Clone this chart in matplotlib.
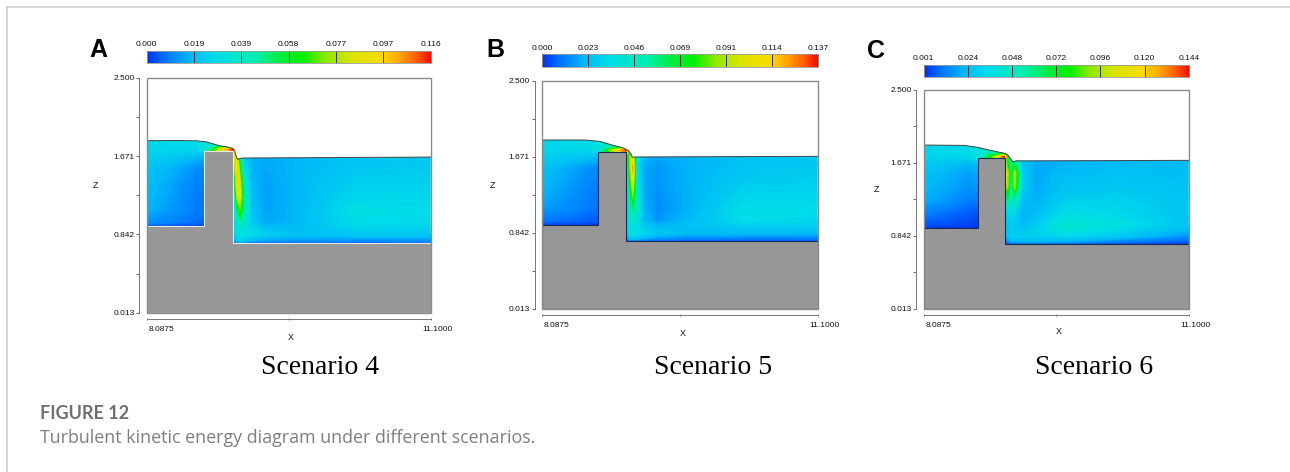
import numpy as np
import matplotlib
matplotlib.use('Agg')
import matplotlib.pyplot as plt
from matplotlib.cm import ScalarMappable
from matplotlib.colors import LinearSegmentedColormap, Normalize
from matplotlib.lines import Line2D
from matplotlib.patches import Polygon, Rectangle

W, H = 1290, 472

# grid nodes of the turbulent kinetic energy field
x_nodes = [8.0875, 8.35, 8.6, 8.7, 8.85, 9.0, 9.02, 9.05, 9.08, 9.12, 9.2, 9.35, 9.7, 10.3, 11.1]
z_nodes = [0.74, 0.78, 0.84, 0.93, 0.97, 1.1, 1.25, 1.4, 1.55, 1.66, 1.74, 1.78, 1.9]

# values in thousandths, one row per z node, bottom row first
tke_a = [
    [0, 0, 0, 0, 0, 0, 4, 5, 5, 4, 3, 2, 2, 2, 3],
    [0, 0, 0, 0, 0, 5, 14, 22, 25, 22, 18, 15, 13, 12, 12],
    [0, 0, 0, 0, 0, 14, 24, 28, 30, 30, 28, 24, 20, 22, 22],
    [4, 3, 2, 2, 2, 16, 24, 34, 37, 34, 26, 18, 19, 26, 25],
    [12, 10, 7, 6, 6, 16, 24, 40, 46, 36, 22, 15, 18, 28, 27],
    [17, 13, 9, 8, 8, 15, 26, 54, 66, 44, 21, 14, 18, 29, 28],
    [19, 14, 9, 8, 8, 16, 42, 84, 84, 44, 19, 14, 18, 26, 26],
    [20, 15, 10, 9, 9, 18, 54, 100, 76, 36, 18, 14, 18, 24, 24],
    [21, 17, 12, 10, 10, 24, 70, 98, 54, 28, 17, 15, 18, 22, 23],
    [24, 22, 18, 16, 30, 54, 90, 80, 40, 24, 17, 15, 18, 21, 22],
    [26, 26, 26, 30, 84, 116, 90, 40, 24, 20, 17, 16, 18, 20, 21],
    [26, 27, 27, 32, 44, 62, 50, 30, 22, 20, 18, 17, 18, 20, 21],
    [26, 27, 27, 32, 44, 62, 50, 30, 22, 20, 18, 17, 18, 20, 21],
]
tke_b = [
    [0, 0, 0, 0, 0, 0, 2, 3, 3, 3, 2, 2, 2, 2, 2],
    [0, 0, 0, 0, 0, 4, 14, 24, 26, 24, 20, 15, 12, 11, 11],
    [0, 0, 0, 0, 0, 14, 28, 36, 36, 34, 30, 26, 22, 22, 22],
    [2, 2, 2, 1, 1, 18, 30, 38, 38, 34, 26, 19, 24, 29, 28],
    [9, 8, 6, 5, 5, 18, 30, 38, 44, 38, 22, 15, 22, 33, 31],
    [16, 13, 10, 9, 9, 18, 28, 42, 60, 46, 20, 13, 20, 34, 33],
    [20, 15, 11, 10, 10, 18, 28, 58, 84, 44, 18, 14, 20, 30, 30],
    [22, 17, 12, 11, 11, 20, 32, 72, 104, 38, 18, 15, 20, 27, 28],
    [24, 19, 14, 13, 13, 22, 36, 84, 124, 36, 18, 15, 20, 25, 27],
    [28, 26, 22, 20, 36, 42, 56, 90, 104, 36, 20, 17, 20, 24, 26],
    [30, 30, 30, 36, 94, 137, 110, 60, 36, 26, 22, 20, 21, 24, 25],
    [30, 32, 32, 36, 50, 70, 66, 40, 30, 26, 22, 20, 21, 24, 25],
    [30, 32, 32, 36, 50, 70, 66, 40, 30, 26, 22, 20, 21, 24, 25],
]
tke_c = [
    [1, 1, 1, 1, 1, 1, 2, 2, 2, 2, 2, 2, 2, 2, 2],
    [1, 1, 1, 1, 1, 4, 10, 16, 22, 24, 24, 24, 22, 14, 8],
    [1, 1, 1, 1, 1, 14, 24, 28, 30, 30, 30, 30, 34, 28, 16],
    [2, 2, 2, 1, 1, 16, 24, 28, 30, 28, 26, 30, 44, 36, 24],
    [6, 5, 4, 3, 3, 16, 24, 28, 30, 28, 24, 28, 44, 38, 26],
    [13, 10, 7, 6, 6, 16, 26, 34, 34, 32, 22, 24, 36, 34, 27],
    [21, 17, 12, 12, 12, 18, 44, 64, 40, 56, 26, 21, 30, 31, 27],
    [24, 20, 16, 17, 17, 32, 100, 84, 44, 94, 32, 20, 26, 28, 26],
    [26, 22, 18, 20, 20, 46, 118, 90, 48, 98, 32, 20, 24, 26, 25],
    [28, 26, 22, 26, 36, 60, 92, 72, 52, 72, 28, 20, 22, 24, 24],
    [32, 32, 32, 40, 80, 144, 100, 60, 44, 40, 26, 21, 21, 22, 22],
    [32, 34, 34, 40, 54, 70, 60, 50, 36, 30, 24, 21, 21, 22, 22],
    [32, 34, 34, 40, 54, 70, 60, 50, 36, 30, 24, 21, 21, 22, 22],
]

# free surface
surf_x_a = [8.0875, 8.4, 8.62, 8.72, 8.86, 8.96, 9.0, 9.02, 9.035, 9.05, 9.08, 9.11, 11.1]
surf_z_a = [1.833, 1.836, 1.832, 1.821, 1.780, 1.763, 1.752, 1.728, 1.675, 1.636, 1.645, 1.650, 1.660]
surf_x_b = [8.0875, 8.55, 8.72, 8.85, 8.97, 9.03, 9.06, 9.075, 9.11, 11.1]
surf_z_b = [1.853, 1.853, 1.838, 1.799, 1.768, 1.738, 1.700, 1.664, 1.668, 1.675]
surf_x_c = [8.0875, 8.55, 8.7, 8.86, 9.0, 9.04, 9.07, 9.1, 9.14, 11.1]
surf_z_c = [1.874, 1.870, 1.848, 1.810, 1.782, 1.765, 1.725, 1.684, 1.694, 1.700]

# bed and weir: left bed, weir left, weir right, weir top, right bed
geom_a = [0.930, 8.699, 9.003, 1.724, 0.754]
geom_b = [0.929, 8.699, 9.002, 1.726, 0.751]
geom_c = [0.927, 8.705, 9.008, 1.723, 0.752]

cbar_labels_a = ['0.000', '0.019', '0.039', '0.058', '0.077', '0.097', '0.116']
cbar_labels_b = ['0.000', '0.023', '0.046', '0.069', '0.091', '0.114', '0.137']
cbar_labels_c = ['0.001', '0.024', '0.048', '0.072', '0.096', '0.120', '0.144']

z_ticks = [0.013, 0.842, 1.671, 2.5]
z_labels = ['0.013', '0.842', '1.671', '2.500']
z_minor = [0.4275, 1.2565, 2.0855]
x_ticks = [8.0875, 9.59375, 11.1]

tkecmap = LinearSegmentedColormap.from_list('tke', [
    (0.0, '#0030f0'), (0.06, '#0070ff'), (0.15, '#00b8f8'), (0.24, '#00dce8'),
    (0.38, '#00eeb0'), (0.47, '#00ee40'), (0.55, '#00f000'), (0.63, '#90e800'),
    (0.72, '#d8e400'), (0.82, '#f8dc00'), (0.88, '#ffb000'), (0.95, '#ff6000'),
    (1.0, '#f01000')])

fig = plt.figure(figsize=(W / 100, H / 100), dpi=100)


def axes_px(left, top, right, bottom):
    return fig.add_axes([left / W, 1 - bottom / H, (right - left) / W, (bottom - top) / H])


def text_px(x, y, s, **kw):
    kw.setdefault('ha', 'center')
    kw.setdefault('va', 'center')
    fig.text(x / W, 1 - y / H, s, **kw)


def draw_panel(box, cbar_box, tke, surf_x, surf_z, geom, labels, edge):
    left, top, right, bottom = box
    ax = axes_px(left, top, right, bottom)
    ax.set_xlim(8.0875, 11.1)
    ax.set_ylim(0.013, 2.5)

    bed_l, weir_l, weir_r, weir_top, bed_r = geom
    vals = np.array(tke) / 1000
    vmin, vmax = float(labels[0]), float(labels[-1])
    norm = Normalize(vmin, vmax)
    levels = np.linspace(vmin, vmax, 140)
    cs = ax.contourf(x_nodes, z_nodes, vals, levels=levels, cmap=tkecmap, norm=norm,
                     extend='both', antialiased=False)

    water = Polygon(list(zip(surf_x, surf_z)) + [(11.1, 0.013), (8.0875, 0.013)],
                    closed=True, transform=ax.transData, fc='none', ec='none')
    ax.add_patch(water)
    cs.set_clip_path(water)

    ground = Polygon([(8.0875, 0.013), (8.0875, bed_l), (weir_l, bed_l), (weir_l, weir_top),
                      (weir_r, weir_top), (weir_r, bed_r), (11.1, bed_r), (11.1, 0.013)],
                     closed=True, fc='#979797', ec=edge, lw=0.8, zorder=3)
    ax.add_patch(ground)
    ax.plot(surf_x, surf_z, color='#454545', lw=0.7, zorder=4)

    # frame sits inside, the axis lines are pushed out from it
    ax.add_patch(Rectangle((0, 0), 1, 1, transform=ax.transAxes, fc='none', ec='#8a8a8a',
                           lw=1.0, zorder=5, clip_on=False))
    for side in ['top', 'right']:
        ax.spines[side].set_visible(False)
    ax.spines['left'].set_position(('outward', 5.3))
    ax.spines['bottom'].set_position(('outward', 4.5))
    ax.spines['left'].set_color('#777777')
    ax.spines['bottom'].set_color('#777777')
    ax.spines['left'].set_linewidth(0.7)
    ax.spines['bottom'].set_linewidth(0.7)

    ax.set_yticks(z_ticks, z_labels, fontsize=6, family='Liberation Sans', color='#111111')
    ax.set_yticks(z_minor, minor=True)
    ax.tick_params(axis='y', which='both', length=2.5, width=0.6, color='#555555', pad=1)
    ax.set_xticks(x_ticks, ['', '', ''])
    ax.tick_params(axis='x', length=2, width=0.6, color='#555555', direction='inout')
    ax.annotate('8.0875', (8.0875, 0), xycoords=('data', 'axes fraction'), xytext=(1.5, -12),
                textcoords='offset points', ha='left', va='center', fontsize=6,
                family='Liberation Sans', color='#111111', annotation_clip=False)
    ax.annotate('11.1000', (11.1, 0), xycoords=('data', 'axes fraction'), xytext=(-6, -12),
                textcoords='offset points', ha='left', va='center', fontsize=6,
                family='Liberation Sans', color='#111111', annotation_clip=False)

    cax = axes_px(*cbar_box)
    cb = fig.colorbar(ScalarMappable(norm=norm, cmap=tkecmap), cax=cax, orientation='horizontal')
    cb.set_ticks(np.linspace(vmin, vmax, 7), labels=labels)
    cax.xaxis.set_ticks_position('top')
    cax.tick_params(axis='x', direction='in', length=(cbar_box[3] - cbar_box[1]) * 0.72,
                    width=0.7, color='#333333', labelsize=6, pad=2, labelcolor='#111111')
    for lab in cax.get_xticklabels():
        lab.set_family('Liberation Sans')
    cb.outline.set_edgecolor('#999999')
    cb.outline.set_linewidth(0.6)


draw_panel((146.7, 77.7, 430.7, 312.7), (146.7, 51, 430.7, 63.3),
           tke_a, surf_x_a, surf_z_a, geom_a, cbar_labels_a, '#e8e8e8')
draw_panel((542, 80.7, 817.7, 308.7), (542, 54.3, 817.7, 66.7),
           tke_b, surf_x_b, surf_z_b, geom_b, cbar_labels_b, '#1a2a50')
draw_panel((923.7, 90, 1188.7, 308.7), (923.7, 65, 1188.7, 76.7),
           tke_c, surf_x_c, surf_z_c, geom_c, cbar_labels_c, '#1a2a50')

for x, y, s in [(98, 50, 'A'), (495, 50, 'B'), (876, 51, 'C')]:
    text_px(x, y, s, fontsize=18, fontweight='bold', family='Liberation Sans', color='black')
for x, y, s in [(95, 185, 'Z'), (492, 185, 'Z'), (876, 190, 'Z'),
                (291, 337, 'X'), (683, 333, 'X'), (1059, 332, 'X')]:
    text_px(x, y, s, fontsize=6.5, family='Liberation Sans', color='#111111')
for x, s in [(320, 'Scenario 4'), (713, 'Scenario 5'), (1094, 'Scenario 6')]:
    text_px(x, 367, s, fontsize=20, family='Liberation Serif', color='black')

text_px(40, 419, 'FIGURE 12', ha='left', va='baseline', fontsize=13, fontweight='bold',
        family='Lato', color='#6f6f6f')
text_px(40, 443, 'Turbulent kinetic energy diagram under different scenarios.', ha='left',
        va='baseline', fontsize=12.9, family='Open Sans', color='#7f7f7f')

fig.add_artist(Line2D([7 / W, 1], [1 - 6.5 / H] * 2, color='#cfcfcf', lw=1.2))
fig.add_artist(Line2D([7 / W] * 2, [1 - 6.5 / H, 0], color='#cfcfcf', lw=1.2))

fig.savefig('out.png', dpi=100)
